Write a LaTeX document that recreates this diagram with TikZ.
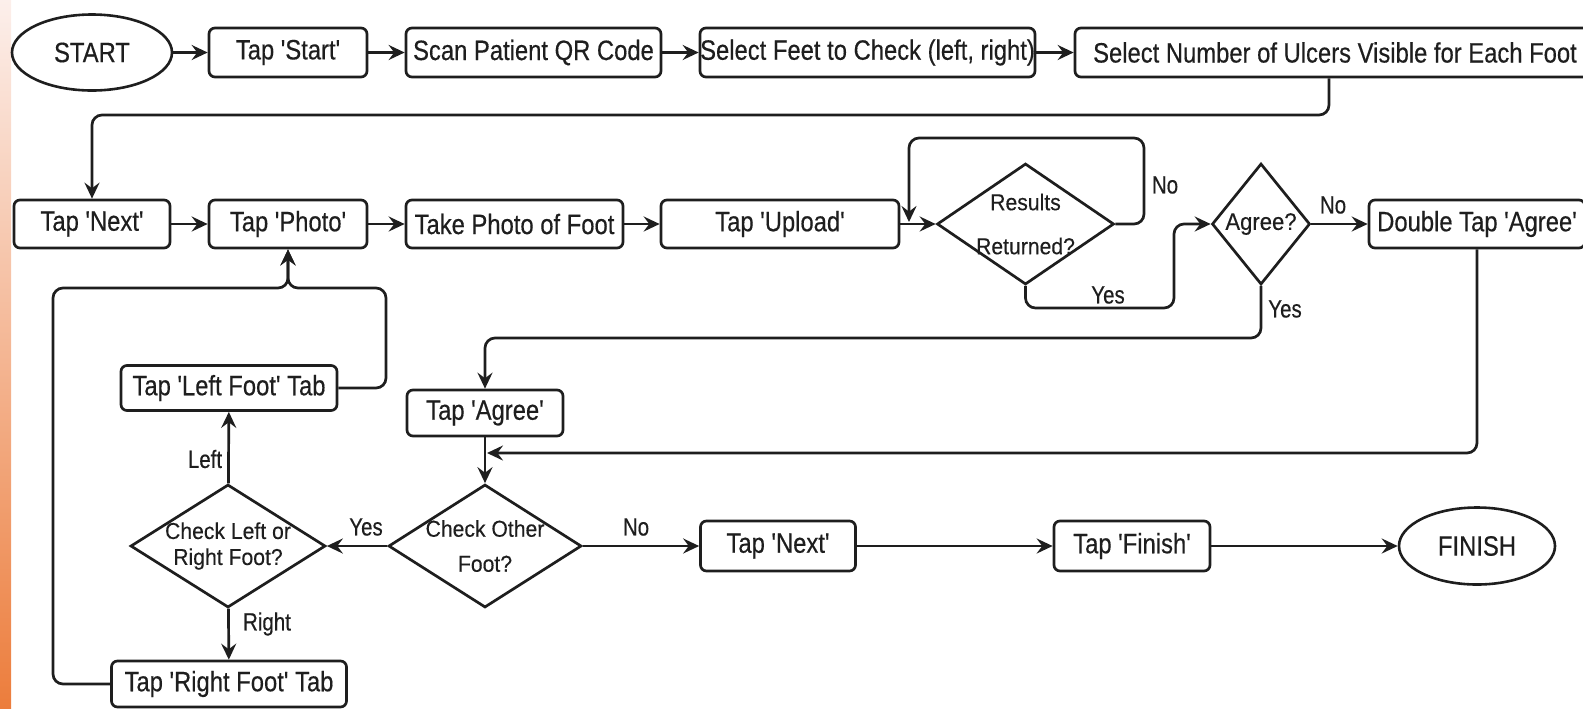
\documentclass[tikz,border=0pt]{standalone}
\usepackage{fontspec}
\setmainfont{Liberation Sans}
\newfontfamily\boxfont{Liberation Sans}[FakeStretch=0.85,FakeBold=0.4]
\newfontfamily\dfont{Liberation Sans}[FakeStretch=0.92,FakeBold=0.3]
\newfontfamily\lblfont{Liberation Sans}[FakeStretch=0.82,FakeBold=0.3]
\usetikzlibrary{arrows.meta,shapes.geometric}
\definecolor{stripTop}{HTML}{FCEFEB}
\definecolor{stripMid}{HTML}{F2B7A0}
\definecolor{stripBot}{HTML}{EC7D3C}
\definecolor{ink}{HTML}{1E1E1E}
\tikzset{
  box/.style={draw=ink, rounded corners=3pt, line width=1.35pt, inner sep=0pt,
    minimum height=24.5pt, text=ink, font=\boxfont\fontsize{14pt}{16pt}\selectfont},
  term/.style={draw=ink, ellipse, line width=1.3pt, inner sep=0pt, text=ink,
    font=\boxfont\fontsize{14pt}{16pt}\selectfont},
  decision/.style={draw=ink, diamond, line width=1.35pt, inner sep=0pt},
  dtext/.style={text=ink, font=\dfont\fontsize{11.5pt}{13pt}\selectfont, align=center},
  lbl/.style={text=ink, font=\lblfont\fontsize{12.5pt}{14pt}\selectfont, inner sep=0pt},
  arr/.style={draw=ink, line width=1.35pt, rounded corners=5pt,
    -{Stealth[length=8pt,width=7.5pt,inset=2.8pt]}},
}
\begin{document}
\begin{tikzpicture}[x=0.5pt,y=-0.5pt]
\useasboundingbox (0,0) rectangle (1583,708);
\clip (0,0) rectangle (1583,708);
% coloured side strip
\shade[top color=stripTop, middle color=stripMid, bottom color=stripBot]
  (0,0) rectangle (11,708);

% top row
\node[term, minimum width=80pt, minimum height=38pt] (start) at (92,52.5) {START};
\node[box, minimum width=79pt] (tapstart) at (288,52.5) {Tap 'Start'};
\node[box, minimum width=127.5pt] (scan) at (533.5,52.5) {Scan Patient QR Code};
\node[box, minimum width=167.5pt] (selfeet) at (867.5,52.5) {Select Feet to Check (left, right)};
\node[box, minimum width=260pt] (selnum) at (1335,52.5) {Select Number of Ulcers Visible for Each Foot};

% second row
\node[box, minimum width=78pt, minimum height=24pt] (tapnext) at (92,224) {Tap 'Next'};
\node[box, minimum width=79pt, minimum height=24pt] (tapphoto) at (288,224) {Tap 'Photo'};
\node[box, minimum width=108.5pt, minimum height=24pt] (takephoto) at (514.5,224) {Take Photo of Foot};
\node[box, minimum width=119pt, minimum height=24pt] (upload) at (780,224) {Tap 'Upload'};
\node[decision, minimum width=88.5pt, minimum height=60.5pt,
  label={[dtext]center:Results\\[9pt]Returned?}] (results) at (1025.5,224) {};
\node[decision, minimum width=49pt, minimum height=60.5pt,
  label={[dtext, font=\dfont\fontsize{12pt}{14pt}\selectfont]center:Agree?}] (agree) at (1261,224) {};
\node[box, minimum width=108pt, minimum height=24pt] (dbltap) at (1477,224) {Double Tap 'Agree'};

% lower part
\node[box, minimum width=78pt, minimum height=23pt] (tapagree) at (485,413) {Tap 'Agree'};
\node[decision, minimum width=96.5pt, minimum height=61.5pt,
  label={[dtext]center:Check Other\\[4.5pt]Foot?}] (checkother) at (485,546) {};
\node[decision, minimum width=97.5pt, minimum height=61.5pt,
  label={[dtext]center:Check Left or\\[0pt]Right Foot?}] (checklr) at (228,546) {};
\node[box, minimum width=108pt, minimum height=22.5pt] (tapleft) at (229,388) {Tap 'Left Foot' Tab};
\node[box, minimum width=117.5pt, minimum height=23pt] (tapright) at (229,684) {Tap 'Right Foot' Tab};
\node[box, minimum width=77.5pt, minimum height=25pt] (tapnext2) at (778,546) {Tap 'Next'};
\node[box, minimum width=78pt, minimum height=25pt] (tapfinish) at (1132,546) {Tap 'Finish'};
\node[term, minimum width=78pt, minimum height=38.5pt] (finish) at (1477,546) {FINISH};

% bend points of the routed connectors
\coordinate (r1) at (1329,115);
\coordinate (n1) at (1144,138);
\coordinate (n2) at (909,222);
\coordinate (y1) at (1174,308);
\coordinate (y2) at (485,338);
\coordinate (m1) at (487,453);
\coordinate (l1) at (386,288);
\coordinate (l2) at (53,288);

% top row connectors
\draw[arr] (start) -- (tapstart);
\draw[arr] (tapstart) -- (scan);
\draw[arr] (scan) -- (selfeet);
\draw[arr] (selfeet) -- (selnum);
\draw[arr] (selnum.south -| r1) -- (r1) -| (tapnext.north);

% second row connectors
\draw[arr] (tapnext) -- (tapphoto);
\draw[arr] (tapphoto) -- (takephoto);
\draw[arr] (takephoto) -- (upload);
\draw[arr] (upload) -- (results);
\draw[arr] (results.east) -| (n1) -| (n2);
\draw[arr] (results.south) |- (y1) |- (agree.west);
\draw[arr] (agree) -- (dbltap);
\draw[arr] (agree.south) |- (y2) -- (tapagree.north);
\draw[arr] (dbltap.south) |- (m1);

% lower connectors
\draw[arr] (tapagree) -- (checkother);
\draw[arr] (checkother) -- (checklr);
\draw[arr] (checkother) -- (tapnext2);
\draw[arr] (tapnext2) -- (tapfinish);
\draw[arr] (tapfinish) -- (finish);
\draw[arr] (checklr) -- (tapleft);
\draw[arr] (checklr) -- (tapright);
\draw[arr] (tapleft.east) -| (l1) -| (tapphoto.south);
\draw[arr] (tapright.west) -| (l2) -| (tapphoto.south);

% branch labels
\node[lbl] (noA) at (1165,185) {No};
\node[lbl] (yesA) at (1108,295) {Yes};
\node[lbl] (noB) at (1333,205) {No};
\node[lbl] (yesB) at (1285,309) {Yes};
\node[lbl] (yesC) at (366,527) {Yes};
\node[lbl] (noC) at (636,527) {No};
\node[lbl] (leftL) at (205,459) {Left};
\node[lbl] (rightL) at (267,624) {Right};
\end{tikzpicture}
\end{document}
